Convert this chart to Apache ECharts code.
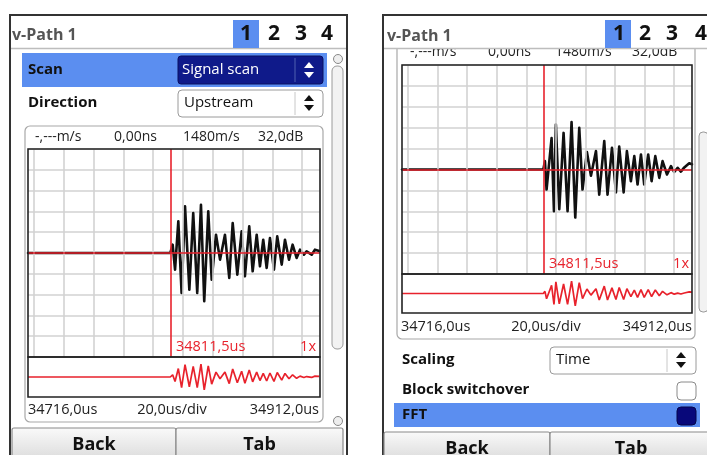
<!DOCTYPE html>
<html><head><meta charset="utf-8">
<script src="https://cdn.jsdelivr.net/npm/echarts@6/dist/echarts.min.js"></script>
<style>html,body{margin:0;padding:0;background:#fff}#c{width:707px;height:455px}</style>
</head><body><div id="c"></div>
<script>
// ---------------- data ----------------
const timeMin = 34716.0;
const timeMax = 34912.0;
const cursorTime = 34811.5;
const gridTimes = [34720, 34740, 34760, 34780, 34800, 34820, 34840, 34860, 34880, 34900];
const headerLabels = ['-,---m/s', '0,00ns', '1480m/s', '32,0dB'];
const axisLabels = ['34716,0us', '20,0us/div', '34912,0us'];
const cursorLabel = '34811,5us';
const zoomLabel = '1x';
const tabLabels = ['1', '2', '3', '4'];
// left screen waveform [time us, amplitude div]
const leftWave = [[34716,0],[34811.5,0],[34813.1,0.4],[34814.7,-0.8],[34816.9,1.52],[34819.1,-1.92],[34821.4,2.24],[34824.3,-1.76],[34826.9,1.92],[34829.6,-1.92],[34832.1,2.32],[34834.3,-2.32],[34837.0,2.0],[34839.3,-1.28],[34842.2,0.88],[34844.9,-0.32],[34848.2,0.88],[34851.1,-1.2],[34853.4,1.44],[34856.5,-1.04],[34859.4,1.04],[34861.6,-1.12],[34864.5,1.28],[34866.8,-0.88],[34869.5,0.88],[34871.7,-0.64],[34873.9,0.64],[34876.2,-0.72],[34878.4,0.72],[34881.1,-0.8],[34883.3,0.8],[34886.3,-0.56],[34888.5,0.64],[34891.2,-0.32],[34893.6,0.4],[34896.3,-0.24],[34898.6,0.16],[34901.2,-0.08],[34903.0,0.08],[34906.4,-0.08],[34908.6,0.16],[34911.5,0.1]];
// right screen waveform
const rightWave = [[34716,0],[34811.5,0],[34812.6,0.4],[34813.7,-0.96],[34817.1,1.5],[34818.7,-2.0],[34820.0,2.15],[34822.3,-1.9],[34825.2,1.75],[34827.9,-2.0],[34830.6,2.27],[34833.1,-2.3],[34835.8,2.0],[34838.0,-0.96],[34841.0,0.83],[34843.7,-0.3],[34847.1,0.88],[34849.3,-1.2],[34852.7,1.36],[34854.9,-1.2],[34857.9,1.04],[34860.6,-1.1],[34862.8,1.1],[34865.8,-1.1],[34868.0,0.88],[34870.7,-0.56],[34873.0,0.64],[34875.2,-0.72],[34877.5,0.72],[34879.7,-0.72],[34882.4,0.72],[34884.7,-0.56],[34887.2,0.64],[34889.9,-0.4],[34892.1,0.4],[34895.1,-0.24],[34897.8,0.16],[34900.0,-0.12],[34902.3,0.08],[34904.5,-0.1],[34906.8,0.1],[34910.1,0.3],[34912,0.25]];

// ---------------- layout ----------------
const FONT = '"Open Sans", "DejaVu Sans", sans-serif';
const RED = '#e8222c';
const BLUE = '#5b8ef0';
const NAVY = '#0f1a8a';
const plots = [
  {main:{left:28, top:149, width:292, height:208}, strip:{left:28, top:357, width:292, height:40}},
  {main:{left:402, top:65, width:290, height:209}, strip:{left:402, top:274, width:290, height:39}}
];
const waves = [leftWave, rightWave];

const grids = [], xAxes = [], yAxes = [], series = [];
plots.forEach((p, i) => {
  grids.push(Object.assign({}, p.main), Object.assign({}, p.strip));
  const gMain = grids.length - 2, gStrip = grids.length - 1;
  [gMain, gStrip].forEach(g => {
    xAxes.push({type:'value', gridIndex:g, min:timeMin, max:timeMax, show:false, splitLine:{show:false}});
  });
  yAxes.push({type:'value', gridIndex:gMain, min:-5, max:5, interval:1,
    axisLine:{show:false}, axisTick:{show:false}, axisLabel:{show:false},
    splitLine:{show:true, lineStyle:{color:'#d2d2d2', width:1.6}}});
  yAxes.push({type:'value', gridIndex:gStrip, min:-3.6, max:3.6, show:false, splitLine:{show:false}});
  // vertical grid lines
  series.push({type:'line', xAxisIndex:gMain, yAxisIndex:gMain, data:[], z:1, silent:true,
    markLine:{symbol:'none', silent:true, label:{show:false}, animation:false,
      lineStyle:{color:'#d2d2d2', width:1.6, type:'solid'},
      data: gridTimes.map(t => ({xAxis:t}))}});
  // main black waveform
  series.push({type:'line', xAxisIndex:gMain, yAxisIndex:gMain, data:waves[i], showSymbol:false,
    symbol:'none', animation:false, z:3, lineStyle:{color:'#111', width:2.6, join:'round', cap:'round'}});
  // cursor lines
  series.push({type:'line', xAxisIndex:gMain, yAxisIndex:gMain, data:[], z:4, silent:true,
    markLine:{symbol:'none', silent:true, label:{show:false}, animation:false,
      lineStyle:{color:RED, width:1.6, type:'solid'},
      data:[{xAxis:cursorTime}, {yAxis:0}]}});
  // strip red waveform
  series.push({type:'line', xAxisIndex:gStrip, yAxisIndex:gStrip, data:waves[i], showSymbol:false,
    symbol:'none', animation:false, z:3, lineStyle:{color:RED, width:1.7}});
});

// ---------------- UI chrome ----------------
const G = [];
function rect(x, y, w, h, style, r, z){ G.push({type:'rect', shape:{x, y, width:w, height:h, r:r||0}, style, z:z||0, silent:true}); }
function text(x, y, t, font, fill, align, z){ G.push({type:'text', x, y, z:z||20, silent:true,
  style:{text:t, font, fill, textAlign:align||'left', textVerticalAlign:'middle', verticalAlign:'middle'}}); }
function line(x1, y1, x2, y2, stroke, w, z){ G.push({type:'line', shape:{x1, y1, x2, y2}, style:{stroke, lineWidth:w||1}, z:z||10, silent:true}); }
function updown(cx, cy, col, z){
  G.push({type:'polygon', shape:{points:[[cx-5,cy-2],[cx+5,cy-2],[cx,cy-8]]}, style:{fill:col}, z:z||30, silent:true});
  G.push({type:'polygon', shape:{points:[[cx-5,cy+2],[cx+5,cy+2],[cx,cy+8]]}, style:{fill:col}, z:z||30, silent:true});
}
function buttons(x0, xm, x1, y){
  const grad = {type:'linear', x:0, y:0, x2:0, y2:1, colorStops:[{offset:0, color:'#fafafa'},{offset:1, color:'#dcdcdc'}]};
  rect(x0, y, xm - x0, 455 - y + 4, {fill:grad, stroke:'#8a8a8a', lineWidth:1.2}, 2, 5);
  rect(xm, y, x1 - xm, 455 - y + 4, {fill:grad, stroke:'#8a8a8a', lineWidth:1.2}, 2, 5);
  text((x0 + xm) / 2, y + 17, 'Back', 'bold 18px ' + FONT, '#111', 'center', 30);
  text((xm + x1) / 2, y + 17, 'Tab', 'bold 18px ' + FONT, '#111', 'center', 30);
}
function tabs(x1box, xs){
  rect(x1box, 20, 26, 28, {fill:BLUE}, 0, 110);
  xs.forEach((x, k) => text(x, 34, tabLabels[k], 'bold 21px ' + FONT, '#111', 'center', 120));
}

// ===== left device =====
rect(10, 15, 337, 445, {fill:'#fff', stroke:'#333', lineWidth:2}, 0, 0);
rect(11, 16, 335, 32, {fill:'#fff'}, 0, 100);
line(11, 48.5, 346, 48.5, '#bdbdbd', 1.5, 101);
text(12, 35, 'v-Path 1', 'bold 16px ' + FONT, '#555', 'left', 120);
tabs(233, [246, 274, 301, 327]);
// Scan row
rect(22, 53, 305, 34, {fill:BLUE}, 0, 5);
text(28, 70, 'Scan', 'bold 15px ' + FONT, '#111', 'left');
rect(178, 56, 145, 28, {fill:NAVY, stroke:'#0a1060', lineWidth:1}, 3, 6);
line(295, 58, 295, 82, '#5060b0', 1, 7);
text(182, 70, 'Signal scan', '15px ' + FONT, '#fff', 'left');
updown(309, 70, '#fff');
// Direction row
text(28, 103, 'Direction', 'bold 15px ' + FONT, '#111', 'left');
rect(178, 90, 145, 27, {fill:'#fff', stroke:'#9a9a9a', lineWidth:1}, 4, 6);
line(295, 92, 295, 115, '#c8c8c8', 1, 7);
text(184, 103, 'Upstream', '15px ' + FONT, '#111', 'left');
updown(309, 103, '#111');
// scope box
rect(25, 126, 298, 296, {fill:'none', stroke:'#a8a8a8', lineWidth:1.2}, 5, 6);
const hxL = [35, 114, 183, 258];
headerLabels.forEach((t, k) => text(hxL[k], 137, t, '14px ' + FONT, '#222', 'left'));
text(28, 410, axisLabels[0], '14.5px ' + FONT, '#222', 'left');
text(172, 410, axisLabels[1], '14.5px ' + FONT, '#222', 'center');
text(319, 410, axisLabels[2], '14.5px ' + FONT, '#222', 'right');
text(176, 347, cursorLabel, '14.5px ' + FONT, RED, 'left', 95);
text(316, 347, zoomLabel, '14.5px ' + FONT, RED, 'right', 95);
rect(28, 149, 292, 208, {fill:'none', stroke:'#222', lineWidth:1.6}, 0, 90);
rect(28, 357, 292, 40, {fill:'none', stroke:'#222', lineWidth:1.6}, 0, 90);
// scrollbar
rect(332, 66, 11, 283, {fill:'#f2f2f2', stroke:'#9a9a9a', lineWidth:1}, 5, 6);
G.push({type:'circle', shape:{cx:338, cy:59, r:4.5}, style:{fill:'#eee', stroke:'#888', lineWidth:1}, z:6, silent:true});
G.push({type:'circle', shape:{cx:338, cy:421, r:4.5}, style:{fill:'#eee', stroke:'#888', lineWidth:1}, z:6, silent:true});
buttons(12, 176, 343, 428);

// ===== right device =====
rect(383, 15, 330, 445, {fill:'#fff', stroke:'#333', lineWidth:2}, 0, 0);
rect(384, 16, 330, 32, {fill:'#fff'}, 0, 100);
line(384, 48.5, 707, 48.5, '#bdbdbd', 1.5, 101);
text(387, 36, 'v-Path 1', 'bold 16px ' + FONT, '#555', 'left', 120);
tabs(605, [619, 645, 672, 701]);
// scope box (scrolled)
rect(397, 20, 298, 319, {fill:'none', stroke:'#a8a8a8', lineWidth:1.2}, 5, 6);
const hxR = [410, 488, 555, 632];
headerLabels.forEach((t, k) => text(hxR[k], 52, t, '14px ' + FONT, '#222', 'left', 50));
text(401, 327, axisLabels[0], '14.5px ' + FONT, '#222', 'left');
text(546, 327, axisLabels[1], '14.5px ' + FONT, '#222', 'center');
text(692, 327, axisLabels[2], '14.5px ' + FONT, '#222', 'right');
text(549, 264, cursorLabel, '14.5px ' + FONT, RED, 'left', 95);
text(689, 264, zoomLabel, '14.5px ' + FONT, RED, 'right', 95);
rect(402, 65, 290, 209, {fill:'none', stroke:'#222', lineWidth:1.6}, 0, 90);
rect(402, 274, 290, 39, {fill:'none', stroke:'#222', lineWidth:1.6}, 0, 90);
// Scaling row
text(402, 360, 'Scaling', 'bold 15px ' + FONT, '#111', 'left');
rect(550, 347, 146, 27, {fill:'#fff', stroke:'#9a9a9a', lineWidth:1}, 4, 6);
line(667, 349, 667, 372, '#c8c8c8', 1, 7);
text(556, 360, 'Time', '15px ' + FONT, '#111', 'left');
updown(681, 360, '#111');
// Block switchover
text(402, 390, 'Block switchover', 'bold 15px ' + FONT, '#111', 'left');
rect(677, 382, 19, 18, {fill:'#fff', stroke:'#8a8a8a', lineWidth:1}, 4, 6);
// FFT row
rect(394, 403, 306, 24, {fill:BLUE}, 0, 5);
text(402, 415, 'FFT', 'bold 15px ' + FONT, '#111', 'left');
rect(677, 407, 19, 18, {fill:'#08087a', stroke:'#05054a', lineWidth:1}, 4, 6);
// scrollbar
rect(699, 132, 9, 180, {fill:'#f2f2f2', stroke:'#9a9a9a', lineWidth:1}, 4, 6);
buttons(384, 550, 712, 432);

const chart = echarts.init(document.getElementById('c'), null, {renderer:'canvas'});
chart.setOption({
  animation:false,
  backgroundColor:'#fff',
  grid:grids, xAxis:xAxes, yAxis:yAxes, series,
  graphic:{elements:G}
});
</script></body></html>
